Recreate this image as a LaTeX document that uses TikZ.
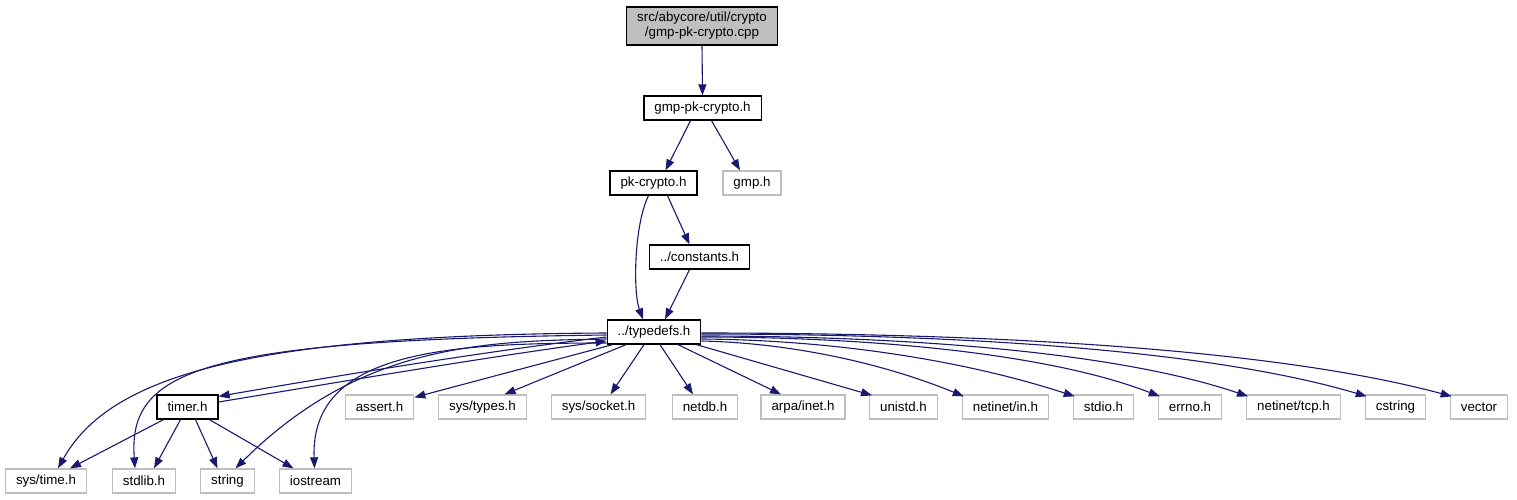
\documentclass[tikz,border=0pt]{standalone}
\usepackage{fontspec}
\setmainfont{Liberation Sans}
\usetikzlibrary{arrows.meta,calc}
\definecolor{edgec}{RGB}{25,25,112}
\definecolor{grayb}{RGB}{191,191,191}
\begin{document}
\begin{tikzpicture}[x=1pt,y=-1pt,
  box/.style={draw, line width=1.3pt, minimum height=24pt, inner xsep=10.5pt, inner ysep=0pt, font=\fontsize{13.33pt}{15pt}\selectfont, fill=white},
  blk/.style={box, draw=black},
  gry/.style={box, draw=grayb},
  edge/.style={draw=edgec, line width=1.1pt, -{Triangle[length=11pt,width=8pt]}},
]
\useasboundingbox (0,0) rectangle (1517,500);
% nodes
\node[box, draw=black, fill=grayb, minimum height=38pt, align=center] (cpp) at (702,26) {src/abycore/util/crypto\\/gmp-pk-crypto.cpp};
\node[blk] (gmph) at (702.5,108) {gmp-pk-crypto.h};
\node[blk] (pk) at (653.5,183) {pk-crypto.h};
\node[gry] (gmp) at (752,183) {gmp.h};
\node[blk] (const) at (699.5,257) {../constants.h};
\node[blk] (typedefs) at (654,332) {../typedefs.h};
\node[blk] (timer) at (187.5,407) {timer.h};
\node[gry] (assert) at (379.5,407) {assert.h};
\node[gry] (systypes) at (482.5,407) {sys/types.h};
\node[gry] (syssocket) at (598.5,407) {sys/socket.h};
\node[gry] (netdb) at (705,407) {netdb.h};
\node[gry] (arpa) at (803,407) {arpa/inet.h};
\node[gry] (unistd) at (903.5,407) {unistd.h};
\node[gry] (netinetin) at (1005.5,407) {netinet/in.h};
\node[gry] (stdio) at (1103.5,407) {stdio.h};
\node[gry] (errno) at (1190,407) {errno.h};
\node[gry] (tcp) at (1293.5,407) {netinet/tcp.h};
\node[gry] (cstring) at (1395.5,407) {cstring};
\node[gry] (vector) at (1479,407) {vector};
\node[gry] (systime) at (46,481) {sys/time.h};
\node[gry] (stdlib) at (144,481) {stdlib.h};
\node[gry] (string) at (227.5,481) {string};
\node[gry] (iostream) at (315.5,481) {iostream};
% upper edges
\draw[edge] (cpp.south) -- (gmph.north);
\draw[edge] ($(gmph.south)+(-12,0)$) -- ($(pk.north)+(12,0)$);
\draw[edge] ($(gmph.south)+(9,0)$) -- ($(gmp.north)+(-12,0)$);
\draw[edge] ($(pk.south)+(14,0)$) -- ($(const.north)+(-10,0)$);
\draw[edge] ($(pk.south)+(-5,0)$) .. controls (634,225) and (633,292) .. ($(typedefs.north)+(-11,0)$);
\draw[edge] ($(const.south)+(-10,0)$) -- ($(typedefs.north)+(11,0)$);
% typedefs <-> timer
\draw[edge] ($(typedefs.west)+(0,5)$) .. controls (480,352) and (330,377) .. ($(timer.north east)+(0,2)$);
\draw[edge] ($(timer.east)+(0,-5)$) .. controls (340,382) and (480,358) .. ($(typedefs.west)+(0,9)$);
% typedefs -> bottom-left
\draw[edge] ($(typedefs.west)+(0,1)$) .. controls (250,335) and (110,375) .. ($(systime.north)+(12,0)$);
\draw[edge] ($(typedefs.west)+(0,3)$) .. controls (200,340) and (128,370) .. ($(stdlib.north)+(-9,0)$);
\draw[edge] ($(typedefs.west)+(0,7)$) .. controls (480,341) and (360,345) .. ($(string.north)+(8,0)$);
\draw[edge] ($(typedefs.west)+(0,11)$) .. controls (450,343) and (310,350) .. ($(iostream.north)+(-1,0)$);
% timer -> bottom
\draw[edge] ($(timer.south)+(-24,0)$) -- ($(systime.north)+(24,0)$);
\draw[edge] ($(timer.south)+(-7,0)$) -- ($(stdlib.north)+(10,0)$);
\draw[edge] ($(timer.south)+(8,0)$) -- ($(string.north)+(-10,0)$);
\draw[edge] ($(timer.south)+(22,0)$) -- ($(iostream.north)+(-22,0)$);
% typedefs -> row
\draw[edge] ($(typedefs.south west)+(6,0)$) -- ($(assert.north east)+(0,3)$);
\draw[edge] ($(typedefs.south)+(-28,0)$) -- ($(systypes.north)+(22,0)$);
\draw[edge] ($(typedefs.south)+(-10,0)$) -- ($(syssocket.north)+(12,0)$);
\draw[edge] ($(typedefs.south)+(6,0)$) -- ($(netdb.north)+(-12,0)$);
\draw[edge] ($(typedefs.south)+(24,0)$) -- ($(arpa.north)+(-22,0)$);
\draw[edge] ($(typedefs.south east)+(-5,0)$) -- ($(unistd.north west)+(3,1)$);
\draw[edge] ($(typedefs.east)+(0,9)$) .. controls (793,343) and (885,364) .. ($(netinetin.north west)+(2,2)$);
\draw[edge] ($(typedefs.east)+(0,7)$) .. controls (832,340) and (963,360) .. ($(stdio.north west)+(2,2)$);
\draw[edge] ($(typedefs.east)+(0,5)$) .. controls (862,337) and (1045,352) .. ($(errno.north west)+(2,2)$);
\draw[edge] ($(typedefs.east)+(0,4)$) .. controls (892,336) and (1111,350) .. ($(tcp.north west)+(2,2)$);
\draw[edge] ($(typedefs.east)+(0,2)$) .. controls (934,334) and (1200,347) .. ($(cstring.north west)+(2,2)$);
\draw[edge] ($(typedefs.east)+(0,1)$) .. controls (964,333) and (1264,346) .. ($(vector.north west)+(2,2)$);
\end{tikzpicture}
\end{document}
